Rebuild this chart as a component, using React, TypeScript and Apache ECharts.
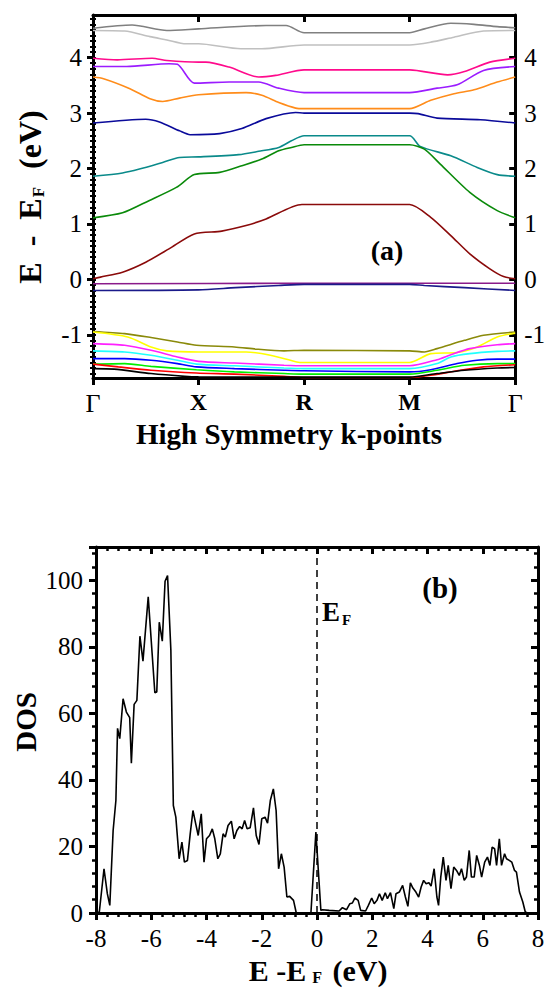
import React, { useEffect, useRef } from 'react';
import * as echarts from 'echarts';

const FONT = 'Liberation Serif, serif';

// ---------- Panel (a): band structure ----------
const kTicks = [0, 1, 2, 3, 4];
const kLabels = ['Γ', 'X', 'R', 'M', 'Γ'];
const eTicks = [-1, 0, 1, 2, 3, 4];
const eMinorTicks: number[] = [];
for (let i = -17; i <= 47; i++) eMinorTicks.push(i / 10);

const band01 = [[0, 4.53], [0.37, 4.59], [0.7, 4.49], [1, 4.52], [1.64, 4.58], [1.83, 4.58], [2, 4.45], [3, 4.45], [3.14, 4.52], [3.39, 4.62], [3.61, 4.6], [3.83, 4.56], [4, 4.54]];
const band02 = [[0, 4.49], [0.3, 4.48], [0.54, 4.38], [0.7, 4.32], [0.88, 4.25], [1, 4.25], [1.4, 4.16], [1.6, 4.16], [2, 4.23], [3, 4.23], [3.2, 4.28], [3.42, 4.37], [3.7, 4.48], [4, 4.49]];
const band03 = [[0, 3.99], [0.23, 3.96], [0.56, 3.99], [0.7, 3.95], [1, 3.92], [1.07, 3.92], [1.29, 3.83], [1.57, 3.65], [1.73, 3.68], [2, 3.78], [3, 3.78], [3.36, 3.69], [3.52, 3.75], [3.76, 3.92], [4, 3.99]];
const band04 = [[0, 3.84], [0.32, 3.84], [0.72, 3.89], [0.8, 3.88], [0.96, 3.54], [1.29, 3.56], [1.57, 3.56], [1.76, 3.45], [2, 3.37], [3, 3.37], [3.26, 3.45], [3.45, 3.51], [3.7, 3.77], [4, 3.84]];
const band05 = [[0, 3.65], [0.1, 3.62], [0.35, 3.44], [0.54, 3.26], [0.66, 3.21], [0.82, 3.27], [1, 3.33], [1.45, 3.37], [1.6, 3.32], [1.76, 3.19], [1.92, 3.09], [2, 3.08], [3, 3.08], [3.2, 3.23], [3.42, 3.35], [3.61, 3.42], [3.83, 3.56], [4, 3.65]];
const band06 = [[0, 2.82], [0.5, 2.89], [0.63, 2.84], [0.82, 2.68], [0.92, 2.61], [1.2, 2.63], [1.41, 2.72], [1.64, 2.9], [1.92, 3.01], [2, 3.0], [3, 3.0], [3.08, 2.99], [3.26, 2.91], [3.67, 2.88], [4, 2.82]];
const band07 = [[0, 1.86], [0.28, 1.92], [0.44, 1.99], [0.66, 2.11], [0.82, 2.2], [1, 2.21], [1.38, 2.25], [1.57, 2.31], [1.76, 2.38], [1.88, 2.5], [2, 2.59], [3, 2.59], [3.1, 2.4], [3.39, 2.23], [3.64, 2.02], [3.83, 1.89], [4, 1.86]];
const band08 = [[0, 1.11], [0.28, 1.2], [0.53, 1.42], [0.79, 1.66], [0.96, 1.89], [1.2, 1.93], [1.41, 2.05], [1.6, 2.17], [1.76, 2.32], [1.88, 2.38], [2, 2.43], [3, 2.43], [3.14, 2.35], [3.29, 2.08], [3.57, 1.57], [3.83, 1.24], [4, 1.11]];
const band09 = [[0, 0.01], [0.07, 0.04], [0.28, 0.13], [0.5, 0.31], [0.72, 0.55], [0.96, 0.82], [1.22, 0.87], [1.45, 0.97], [1.64, 1.09], [1.98, 1.35], [3, 1.35], [3.2, 1.12], [3.39, 0.79], [3.57, 0.46], [3.76, 0.19], [3.89, 0.05], [4, 0.01]];
const band10 = [[0, -0.08], [2, -0.07], [3, -0.07], [4, -0.07]];
const band11 = [[0, -0.2], [1, -0.19], [1.35, -0.15], [1.76, -0.11], [2, -0.09], [3, -0.09], [3.14, -0.11], [3.52, -0.15], [4, -0.2]];
const band12 = [[0, -0.94], [0.3, -0.98], [0.55, -1.05], [0.8, -1.13], [0.98, -1.19], [1.34, -1.22], [1.55, -1.26], [1.81, -1.29], [2, -1.28], [3, -1.29], [3.14, -1.31], [3.26, -1.25], [3.52, -1.1], [3.7, -1.01], [4, -0.95]];
const band13 = [[0, -0.95], [0.33, -1.04], [0.55, -1.22], [0.7, -1.29], [1, -1.31], [1.45, -1.31], [1.68, -1.37], [1.93, -1.49], [2, -1.5], [3, -1.5], [3.2, -1.34], [3.45, -1.32], [3.64, -1.22], [3.83, -1.04], [4, -0.97]];
const band14 = [[0, -1.16], [0.3, -1.19], [0.55, -1.28], [0.8, -1.4], [1, -1.48], [1.34, -1.51], [1.81, -1.55], [2, -1.56], [3, -1.56], [3.26, -1.45], [3.39, -1.36], [3.57, -1.25], [3.83, -1.18], [4, -1.16]];
const band15 = [[0, -1.29], [0.3, -1.31], [0.55, -1.37], [0.8, -1.46], [0.98, -1.53], [1.34, -1.56], [1.81, -1.6], [2, -1.61], [3, -1.61], [3.26, -1.52], [3.39, -1.4], [3.57, -1.34], [3.83, -1.3], [4, -1.29]];
const band16 = [[0, -1.43], [0.3, -1.43], [0.55, -1.46], [0.8, -1.52], [0.98, -1.58], [1.34, -1.61], [1.81, -1.64], [2, -1.65], [3, -1.67], [3.2, -1.63], [3.45, -1.52], [3.64, -1.46], [3.83, -1.44], [4, -1.44]];
const band17 = [[0, -1.53], [0.3, -1.52], [0.55, -1.57], [0.98, -1.63], [1.34, -1.67], [1.81, -1.7], [2, -1.71], [3, -1.71], [3.26, -1.64], [3.52, -1.55], [3.83, -1.52], [4, -1.52]];
const band18 = [[0, -1.53], [0.24, -1.58], [0.55, -1.64], [0.98, -1.69], [1.34, -1.71], [1.81, -1.75], [2, -1.77], [3, -1.77], [3.2, -1.73], [3.45, -1.65], [3.7, -1.58], [4, -1.54]];
const band19 = [[0, -1.61], [0.2, -1.62], [0.55, -1.7], [0.87, -1.75], [1, -1.76], [2, -1.765], [3, -1.765], [3.26, -1.7], [3.52, -1.64], [3.83, -1.6], [4, -1.59]];

const bands = [band01, band02, band03, band04, band05, band06, band07, band08, band09, band10, band11, band12, band13, band14, band15, band16, band17, band18, band19];
const bandColors = ['#808080', '#c0c0c0', '#ff0a8c', '#9b1cff', '#ff8c1a', '#0a0a9a', '#0a8a8a', '#0a8a0a', '#8a0a0a', '#8a1a8a', '#1a1a8a', '#8a8a0a', '#ffff00', '#ff20ff', '#20ffff', '#0000ff', '#00ee00', '#ff0000', '#000000'];

// ---------- Panel (b): density of states ----------
const dosE = [-8, -7.88, -7.71, -7.59, -7.5, -7.38, -7.28, -7.22, -7.14, -7.02, -6.9, -6.78, -6.72, -6.62, -6.52, -6.41, -6.3, -6.11, -5.97, -5.87, -5.8, -5.71, -5.6, -5.5, -5.41, -5.29, -5.2, -5.11, -4.99, -4.89, -4.8, -4.69, -4.59, -4.49, -4.39, -4.3, -4.19, -4.09, -4.0, -3.89, -3.79, -3.7, -3.59, -3.5, -3.4, -3.32, -3.22, -3.1, -3.0, -2.9, -2.8, -2.71, -2.62, -2.53, -2.42, -2.3, -2.2, -2.1, -2.0, -1.88, -1.79, -1.69, -1.58, -1.48, -1.39, -1.29, -1.19, -1.09, -0.99, -0.85, -0.75, -0.22, -0.04, 0.14, 0.2, 0.44, 0.8, 0.92, 1.07, 1.19, 1.28, 1.37, 1.49, 1.58, 1.76, 1.86, 1.98, 2.07, 2.17, 2.26, 2.36, 2.47, 2.55, 2.66, 2.78, 2.86, 2.98, 3.1, 3.2, 3.29, 3.38, 3.47, 3.58, 3.68, 3.77, 3.86, 3.95, 4.05, 4.13, 4.24, 4.34, 4.4, 4.48, 4.57, 4.67, 4.75, 4.85, 4.95, 5.05, 5.15, 5.23, 5.33, 5.41, 5.51, 5.59, 5.69, 5.78, 5.88, 5.96, 6.07, 6.17, 6.26, 6.34, 6.43, 6.5, 6.6, 6.68, 6.79, 6.86, 6.96, 7.05, 7.15, 7.22, 7.33, 7.45, 7.54, 7.63];
const dosV = [0, 0.3, 13.3, 5.8, 2.3, 24.8, 33.8, 55.5, 52.4, 64.4, 60.4, 58.7, 45, 62.7, 63.9, 83.2, 75.7, 95, 78.2, 66.2, 66.4, 87.4, 81.7, 99.7, 101.4, 79, 32.3, 28.8, 16.3, 21.3, 15.3, 15.8, 23.8, 30.8, 26.8, 23.3, 29.8, 15.3, 22.3, 23.3, 25.3, 22.3, 16.3, 17.8, 23.8, 22.8, 26.3, 27.6, 22.3, 24.8, 26.0, 25.3, 27.8, 25.3, 25.6, 31.6, 23.3, 20.6, 28.3, 28.8, 27.0, 33.8, 37.3, 30.8, 13.3, 17.8, 13.8, 4.8, 5.0, 3.8, 0, 0, 24.3, 0.8, 1.0, 0.8, 0.6, 1.6, 1.0, 2.8, 3.0, 4.5, 3.8, 0.8, 0.6, 2.3, 4.5, 2.8, 3.8, 5.8, 3.8, 6.1, 4.3, 6.1, 1.3, 5.8, 6.3, 8.3, 4.8, 2.0, 9.1, 7.5, 6.3, 4.8, 7.8, 9.8, 8.8, 9.1, 8.1, 13.3, 4.8, 2.3, 10.8, 16.8, 9.8, 14.3, 7.3, 13.8, 12.8, 11.3, 13.3, 9.8, 10.8, 18.8, 10.8, 10.8, 17.3, 14.3, 10.8, 15.3, 16.8, 14.3, 19.8, 19.3, 14.3, 22.3, 14.3, 17.8, 16.3, 15.8, 15.3, 12.8, 12.3, 6.3, 3.3, 0.3, 0];
const dosXTicks = [-8, -6, -4, -2, 0, 2, 4, 6, 8];
const dosYTicks = [0, 20, 40, 60, 80, 100];

const axisLineBold = { show: true, onZero: false, lineStyle: { color: '#000', width: 3 } };
const tickFont = { color: '#000', fontFamily: FONT, fontSize: 25 };

function buildOption() {
  const bandSeries = bands.map((b, i) => ({
    type: 'line',
    xAxisIndex: 0,
    yAxisIndex: 0,
    data: b,
    showSymbol: false,
    symbol: 'none',
    smooth: 0.25,
    lineStyle: { color: bandColors[i], width: 1.6 },
    silent: true,
    z: 3,
  }));

  const dosSeries = {
    type: 'line',
    xAxisIndex: 2,
    yAxisIndex: 4,
    data: dosE.map((e, i) => [e, dosV[i]]),
    showSymbol: false,
    symbol: 'none',
    lineStyle: { color: '#000', width: 1.6 },
    silent: true,
    markLine: {
      silent: true,
      symbol: ['none', 'none'],
      label: { show: false },
      lineStyle: { color: '#000', width: 1.5, type: [7, 5] },
      data: [{ xAxis: 0 }],
    },
  };

  return {
    animation: false,
    backgroundColor: '#fff',
    textStyle: { fontFamily: FONT },
    grid: [
      { left: 93, top: 15, width: 425, height: 363 },
      { left: 96, top: 547, width: 442, height: 366 },
    ],
    xAxis: [
      {
        gridIndex: 0, type: 'value', min: 0, max: 4, interval: 1, position: 'bottom',
        axisLine: axisLineBold,
        axisTick: { show: true, inside: false, length: 7, lineStyle: { width: 3, color: '#000' } },
        axisLabel: {
          margin: 12, color: '#000', fontFamily: FONT, fontSize: 24,
          formatter: (v: number) => {
            const idx = kTicks.indexOf(Math.round(v));
            const t = idx >= 0 ? kLabels[idx] : '';
            return t === 'Γ' ? '{g|' + t + '}' : '{b|' + t + '}';
          },
          rich: {
            g: { fontFamily: FONT, fontSize: 26, fontWeight: 'normal', color: '#000' },
            b: { fontFamily: FONT, fontSize: 24, fontWeight: 'bold', color: '#000' },
          },
        },
        splitLine: { show: false },
      },
      {
        gridIndex: 0, type: 'value', min: 0, max: 4, interval: 1, position: 'top',
        axisLine: axisLineBold,
        axisTick: { show: true, inside: true, length: 7, lineStyle: { width: 3, color: '#000' } },
        axisLabel: { show: false },
        splitLine: { show: false },
      },
      {
        gridIndex: 1, type: 'value', min: -8, max: 8, interval: 2, position: 'bottom',
        axisLine: axisLineBold,
        axisTick: { show: true, inside: false, length: 7, lineStyle: { width: 3, color: '#000' } },
        minorTick: { show: true, splitNumber: 5, length: 4, lineStyle: { width: 2.5, color: '#000' } },
        axisLabel: {
          margin: 13, ...tickFont,
          formatter: (v: number) => (dosXTicks.indexOf(v) >= 0 ? String(v) : ''),
        },
        splitLine: { show: false },
        minorSplitLine: { show: false },
      },
      {
        gridIndex: 1, type: 'value', min: -8, max: 8, interval: 2, position: 'top',
        axisLine: axisLineBold,
        axisTick: { show: true, inside: true, length: 7, lineStyle: { width: 3, color: '#000' } },
        minorTick: { show: true, splitNumber: 5, length: 4, lineStyle: { width: 2.5, color: '#000' } },
        axisLabel: { show: false },
        splitLine: { show: false },
      },
    ],
    yAxis: [
      {
        gridIndex: 0, type: 'value', min: -1.78, max: 4.77, position: 'left',
        axisLine: axisLineBold,
        axisTick: { show: true, inside: false, length: 6, customValues: eTicks, lineStyle: { width: 3, color: '#000' } },
        axisLabel: { margin: 11, ...tickFont, customValues: eTicks },
        splitLine: { show: false },
      },
      {
        gridIndex: 0, type: 'value', min: -1.78, max: 4.77, position: 'left',
        axisLine: { show: false },
        axisTick: { show: true, inside: false, length: 3, customValues: eMinorTicks, lineStyle: { width: 2, color: '#000' } },
        axisLabel: { show: false },
        splitLine: { show: false },
      },
      {
        gridIndex: 0, type: 'value', min: -1.78, max: 4.77, position: 'right',
        axisLine: axisLineBold,
        axisTick: { show: true, inside: true, length: 6, customValues: eTicks, lineStyle: { width: 3, color: '#000' } },
        axisLabel: { margin: 9, ...tickFont, customValues: eTicks },
        splitLine: { show: false },
      },
      {
        gridIndex: 0, type: 'value', min: -1.78, max: 4.77, position: 'right',
        axisLine: { show: false },
        axisTick: { show: true, inside: false, length: 3, customValues: eMinorTicks, lineStyle: { width: 2, color: '#000' } },
        axisLabel: { show: false },
        splitLine: { show: false },
      },
      {
        gridIndex: 1, type: 'value', min: 0, max: 110, interval: 20, position: 'left',
        axisLine: axisLineBold,
        axisTick: { show: true, inside: false, length: 7, lineStyle: { width: 3, color: '#000' } },
        minorTick: { show: true, splitNumber: 5, length: 4, lineStyle: { width: 2.5, color: '#000' } },
        axisLabel: {
          margin: 13, ...tickFont,
          formatter: (v: number) => (dosYTicks.indexOf(v) >= 0 ? String(v) : ''),
        },
        splitLine: { show: false },
      },
      {
        gridIndex: 1, type: 'value', min: 0, max: 110, interval: 20, position: 'right',
        axisLine: axisLineBold,
        axisTick: { show: true, inside: true, length: 7, lineStyle: { width: 3, color: '#000' } },
        minorTick: { show: true, splitNumber: 5, length: 4, lineStyle: { width: 2.5, color: '#000' } },
        axisLabel: { show: false },
        splitLine: { show: false },
      },
    ],
    series: [...bandSeries, dosSeries],
    graphic: [
      {
        type: 'text', x: 30, y: 197, rotation: Math.PI / 2,
        style: {
          text: '{m|E  -  E}{s|F}{m|  (eV)}',
          align: 'center', verticalAlign: 'middle',
          rich: {
            m: { fontFamily: FONT, fontSize: 32, fontWeight: 'bold', fill: '#000', lineHeight: 34 },
            s: { fontFamily: FONT, fontSize: 17, fontWeight: 'bold', fill: '#000', verticalAlign: 'bottom', lineHeight: 17, padding: [0, 2, 0, 1] },
          },
        },
      },
      {
        type: 'text', x: 289, y: 434,
        style: { text: 'High Symmetry k-points', align: 'center', verticalAlign: 'middle', fontFamily: FONT, fontSize: 29, fontWeight: 'bold', fill: '#000' },
      },
      {
        type: 'text', x: 387, y: 250,
        style: { text: '(a)', align: 'center', verticalAlign: 'middle', fontFamily: FONT, fontSize: 28, fontWeight: 'bold', fill: '#000' },
      },
      {
        type: 'text', x: 26, y: 722, rotation: Math.PI / 2,
        style: { text: 'DOS', align: 'center', verticalAlign: 'middle', fontFamily: FONT, fontSize: 29, fontWeight: 'bold', fill: '#000' },
      },
      {
        type: 'text', x: 440, y: 588,
        style: { text: '(b)', align: 'center', verticalAlign: 'middle', fontFamily: FONT, fontSize: 29, fontWeight: 'bold', fill: '#000' },
      },
      {
        type: 'text', x: 322, y: 612,
        style: {
          text: '{m|E}{s|F}',
          align: 'left', verticalAlign: 'middle',
          rich: {
            m: { fontFamily: FONT, fontSize: 27, fontWeight: 'bold', fill: '#000', lineHeight: 30 },
            s: { fontFamily: FONT, fontSize: 15, fontWeight: 'bold', fill: '#000', verticalAlign: 'bottom', lineHeight: 14, padding: [0, 0, 0, 2] },
          },
        },
      },
      {
        type: 'text', x: 318, y: 970,
        style: {
          text: '{m|E -E}{s| F}{m| (eV)}',
          align: 'center', verticalAlign: 'middle',
          rich: {
            m: { fontFamily: FONT, fontSize: 30, fontWeight: 'bold', fill: '#000', lineHeight: 30 },
            s: { fontFamily: FONT, fontSize: 16, fontWeight: 'bold', fill: '#000', verticalAlign: 'bottom', lineHeight: 13, padding: [0, 3, 0, 2] },
          },
        },
      },
    ],
  };
}

export default function App() {
  const ref = useRef<HTMLDivElement>(null);
  useEffect(() => {
    if (!ref.current) return;
    const chart = echarts.init(ref.current, null, { renderer: 'svg' });
    chart.setOption(buildOption() as any);
    return () => chart.dispose();
  }, []);
  return (
    <div
      ref={ref}
      style={{ position: 'absolute', left: 0, top: 0, width: 548, height: 990, background: '#fff' }}
    />
  );
}
